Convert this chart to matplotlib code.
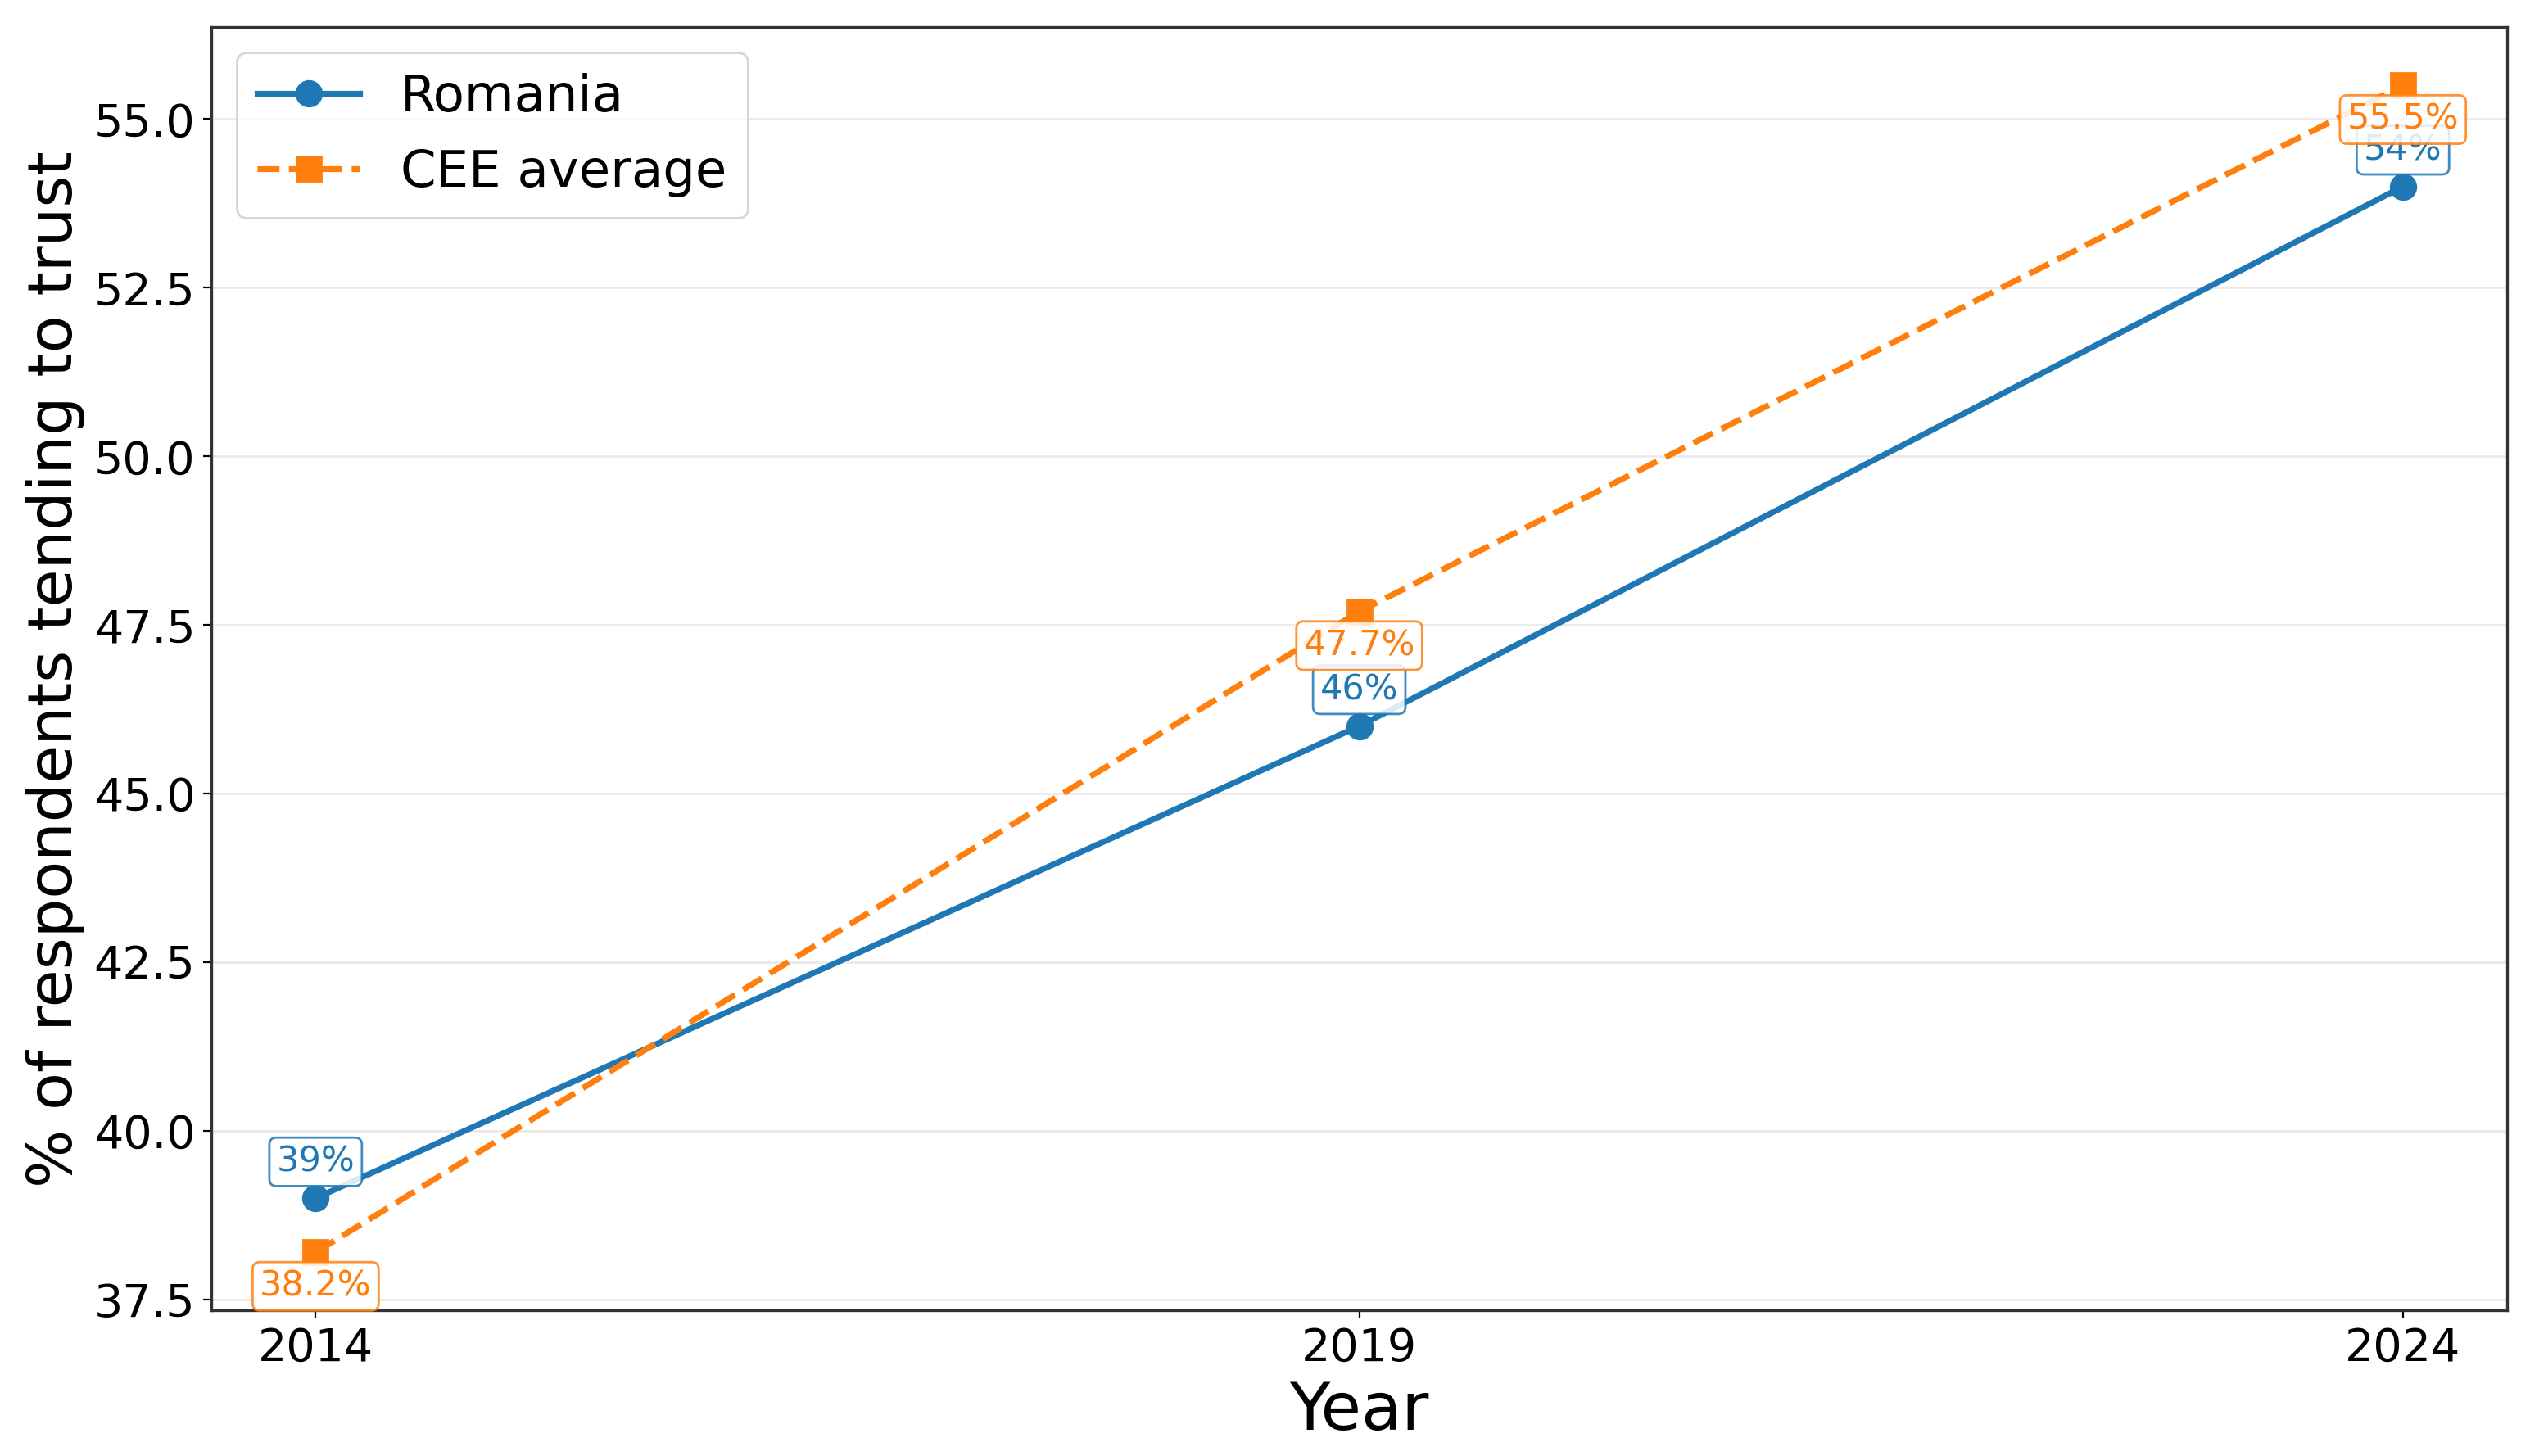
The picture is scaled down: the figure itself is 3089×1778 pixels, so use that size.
import matplotlib
matplotlib.use("Agg")
import matplotlib.pyplot as plt

years = [2014, 2019, 2024]
romania = [39, 46, 54]
cee_avg = [38.2, 47.7, 55.5]
romania_labels = ["39%", "46%", "54%"]
cee_labels = ["38.2%", "47.7%", "55.5%"]

BLUE = "#1f77b4"
ORANGE = "#ff7f0e"

fig = plt.figure(figsize=(15.445, 8.89), dpi=200)
ax = fig.add_axes([0.0835, 0.0999, 0.9075, 0.8815])

ax.plot(years, romania, color=BLUE, lw=2.6, marker="o", ms=11, label="Romania")
ax.plot(years, cee_avg, color=ORANGE, lw=2.6, ls="--", marker="s", ms=11, label="CEE average")

# value labels: Romania above the point, CEE below
for x, y, t in zip(years, romania, romania_labels):
    ax.annotate(t, (x, y), xytext=(0, 16), textcoords="offset points", ha="center", va="center",
                fontsize=15.5, color=BLUE,
                bbox=dict(boxstyle="round,pad=0.2", fc="white", ec=BLUE, lw=1, alpha=0.85))
for x, y, t in zip(years, cee_avg, cee_labels):
    ax.annotate(t, (x, y), xytext=(0, -15), textcoords="offset points", ha="center", va="center",
                fontsize=15.5, color=ORANGE,
                bbox=dict(boxstyle="round,pad=0.2", fc="white", ec=ORANGE, lw=1, alpha=0.85))

ax.set_xticks(years)
ax.tick_params(labelsize=20)
ax.set_xlabel("Year", fontsize=29)
ax.set_ylabel("% of respondents tending to trust", fontsize=27)
ax.grid(axis="y", color="#dddddd", alpha=0.6, lw=1)
ax.set_axisbelow(True)
for s in ax.spines.values():
    s.set_color("#333333")
    s.set_linewidth(1.2)
ax.legend(loc="upper left", fontsize=22.5)

fig.savefig("out.png", dpi=200)
